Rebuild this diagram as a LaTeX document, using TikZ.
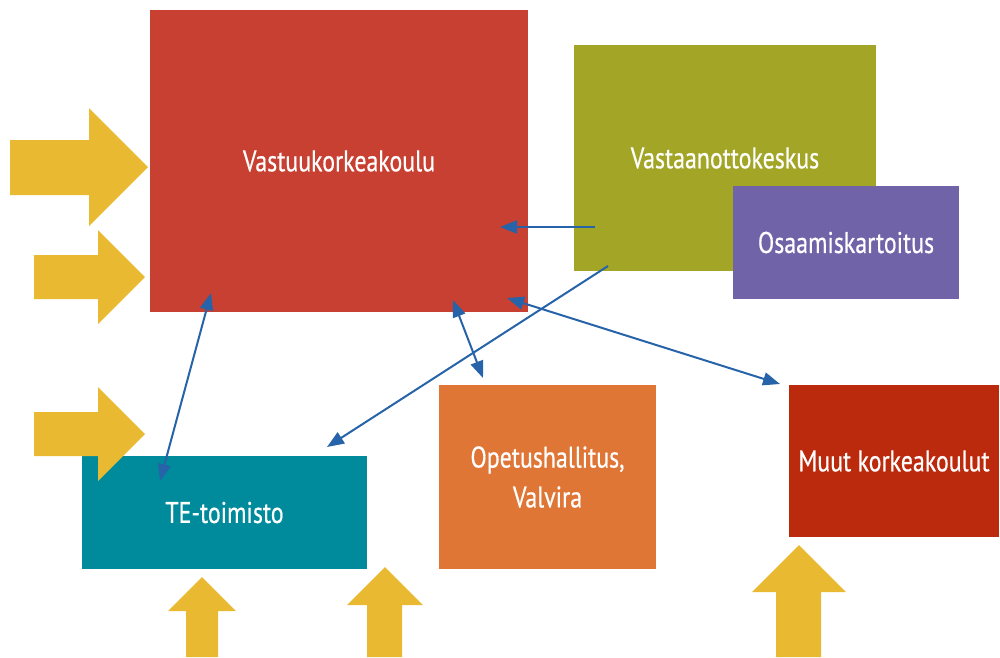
\documentclass[tikz,border=0pt]{standalone}
\usepackage{fontspec}
\setmainfont{PT Sans}[FakeStretch=0.8, FakeBold=0.5]
\usetikzlibrary{arrows.meta}
\definecolor{vkkred}{HTML}{C84031}
\definecolor{vokolive}{HTML}{A2A526}
\definecolor{osapurple}{HTML}{7063A8}
\definecolor{teteal}{HTML}{008B9C}
\definecolor{ophorange}{HTML}{DF7636}
\definecolor{muutred}{HTML}{BB2A0C}
\definecolor{feedyellow}{HTML}{E8B931}
\definecolor{linkblue}{HTML}{2763A8}
\tikzset{
    box/.style={inner sep=0pt, text=white, align=center,
        font=\fontsize{17}{22.7}\selectfont},
    feed/.style={fill=feedyellow},
    link/.style={draw=linkblue, line width=0.04cm,
        -{Triangle[length=0.34cm, width=0.26cm]}},
    twoway/.style={link,
        {Triangle[length=0.34cm, width=0.26cm]}-{Triangle[length=0.34cm, width=0.26cm]}}
}

\begin{document}
\begin{tikzpicture}[x=0.02cm, y=-0.02cm]
        \useasboundingbox (0, 0) rectangle (1000, 657);

        \node[box, fill=vkkred, minimum width=7.56cm, minimum height=6.04cm] (vkk) at (339, 161) {Vastuukorkeakoulu};
        \node[box, fill=vokolive, minimum width=6.04cm, minimum height=4.52cm] (vok) at (725, 158) {Vastaanottokeskus};
        \node[box, fill=osapurple, minimum width=4.52cm, minimum height=2.26cm] (osa) at (846, 242.5) {Osaamiskartoitus};
        \node[box, fill=teteal, minimum width=5.7cm, minimum height=2.26cm] (te) at (224.5, 512.5) {TE-toimisto};
        \node[box, fill=ophorange, minimum width=4.34cm, minimum height=3.68cm] (oph) at (547.5, 477) {Opetushallitus,\\Valvira};
        \node[box, fill=muutred, minimum width=4.2cm, minimum height=3.04cm] (muut) at (894, 461) {Muut korkeakoulut};

        \fill[feed] (10, 140) -- (89, 140) -- (89, 108) -- (148, 167) -- (89, 226) -- (89, 195) -- (10, 195) -- cycle;
        \fill[feed] (34, 255) -- (98, 255) -- (98, 230) -- (145, 277) -- (98, 324) -- (98, 299) -- (34, 299) -- cycle;
        \fill[feed] (34, 412) -- (98, 412) -- (98, 387) -- (145, 434) -- (98, 481) -- (98, 456) -- (34, 456) -- cycle;

        \fill[feed] (186, 657) -- (186, 611) -- (168, 611) -- (202, 577) -- (236, 611) -- (218, 611) -- (218, 657) -- cycle;
        \fill[feed] (367, 657) -- (367, 605) -- (347, 605) -- (385, 567) -- (423, 605) -- (402, 605) -- (402, 657) -- cycle;
        \fill[feed] (776, 657) -- (776, 592) -- (752, 592) -- (799, 545) -- (846, 592) -- (821, 592) -- (821, 657) -- cycle;

        \coordinate (vok-w) at (595, 227);
        \coordinate (vkk-e) at (500, 227);
        \coordinate (vok-s) at (608, 266);
        \coordinate (te-ne) at (327, 447);
        \coordinate (vkk-s) at (453, 300);
        \coordinate (oph-n) at (483, 378);
        \coordinate (vkk-se) at (507, 298);
        \coordinate (muut-nw) at (780, 384);
        \coordinate (vkk-sw) at (211, 293);
        \coordinate (te-n) at (160, 481);

        \draw[link] (vok-w) -- (vkk-e);
        \draw[link] (vok-s) -- (te-ne);
        \draw[twoway] (vkk-s) -- (oph-n);
        \draw[twoway] (vkk-se) -- (muut-nw);
        \draw[twoway] (vkk-sw) -- (te-n);
\end{tikzpicture}
\end{document}
